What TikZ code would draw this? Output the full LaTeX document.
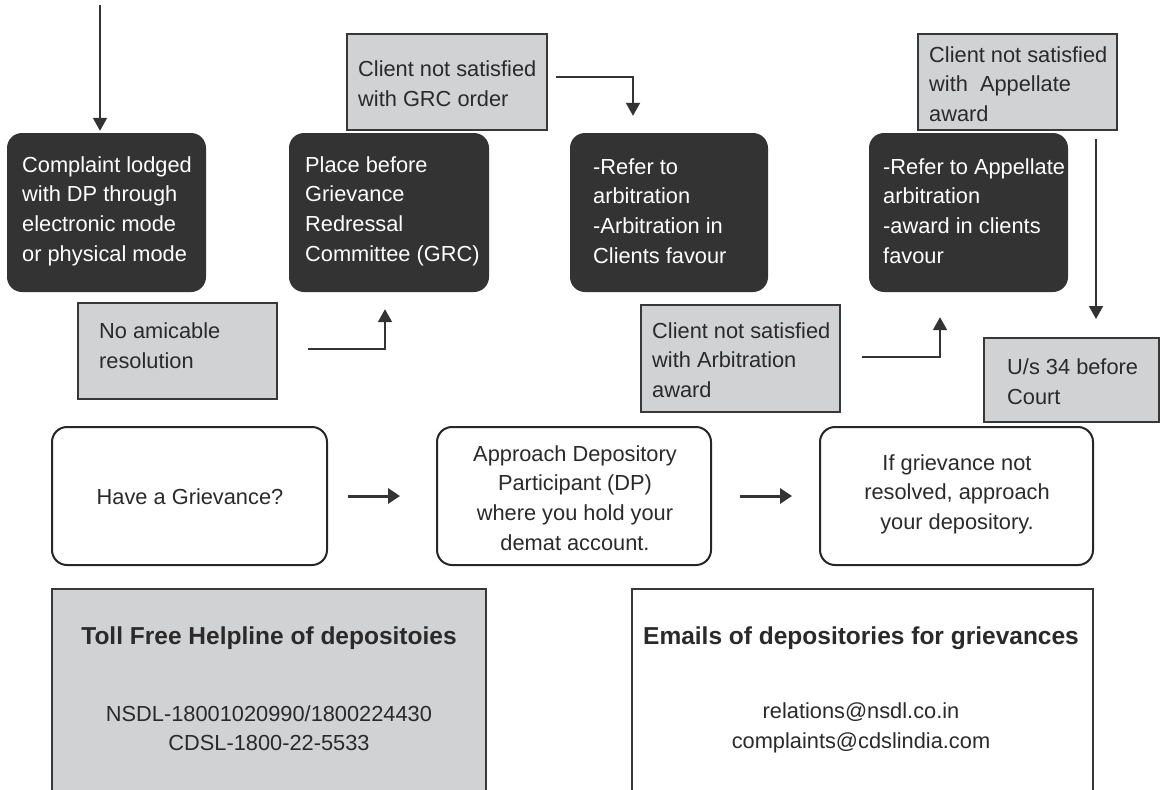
\documentclass[tikz,border=0pt]{standalone}
\usepackage{fontspec}
\setmainfont{Liberation Sans}
\usetikzlibrary{arrows.meta}
\definecolor{darkfill}{HTML}{333333}
\definecolor{grayfill}{HTML}{D1D2D4}
\definecolor{edgec}{HTML}{383838}
\definecolor{linec}{HTML}{333333}
\definecolor{txtc}{HTML}{2A2A2A}
\tikzset{
  darkbox/.style={rectangle, rounded corners=15pt, fill=darkfill, draw=none, inner sep=0pt},
  graybox/.style={rectangle, fill=grayfill, draw=edgec, line width=2pt, inner sep=0pt},
  whitebox/.style={rectangle, rounded corners=15pt, fill=white, draw=black!85, line width=2pt, inner sep=0pt},
  bigbox/.style={rectangle, draw=edgec, line width=2pt, inner sep=0pt},
  txt/.style={inner sep=0pt, align=left, font=\fontsize{21.8}{29.6}\selectfont, text=txtc},
  wtxt/.style={txt, text=white},
  ctxt/.style={txt, align=center},
  ttl/.style={inner sep=0pt, align=center, font=\bfseries\fontsize{24.5}{30}\selectfont, text=txtc},
  arr/.style={draw=linec, line width=2pt, -{Triangle[width=14pt,length=13pt]}},
  arrbig/.style={draw=linec, line width=3pt, -{Triangle[width=15pt,length=12pt]}},
}
\begin{document}
\begin{tikzpicture}[x=1pt,y=-1pt]
\useasboundingbox (0,0) rectangle (1166,789);
\clip (0,0) rectangle (1166,789);

% dark boxes
\node[darkbox, minimum width=199pt, minimum height=159pt] (c1) at (106.5,212.5) {};
\node[darkbox, minimum width=200pt, minimum height=159pt] (c2) at (389,212.5) {};
\node[darkbox, minimum width=198pt, minimum height=159pt] (c3) at (669,212.5) {};
\node[darkbox, minimum width=199pt, minimum height=159pt] (c4) at (968.5,212.5) {};
\node[wtxt, anchor=west] (c1t) at (22,211) {Complaint lodged\\with DP through\\electronic mode\\or physical mode};
\node[wtxt, anchor=west] (c2t) at (305,211) {Place before\\Grievance\\Redressal\\Committee (GRC)};
\node[wtxt, anchor=west] (c3t) at (593,211) {-Refer to\\arbitration\\-Arbitration in\\Clients favour};
\node[wtxt, anchor=west] (c4t) at (883,211) {-Refer to Appellate\\arbitration\\-award in clients\\favour};

% gray boxes
\node[graybox, minimum width=199pt, minimum height=96pt] (noam) at (177.5,351) {};
\node[graybox, minimum width=200pt, minimum height=96pt] (grco) at (447,82) {};
\node[graybox, minimum width=199pt, minimum height=107pt] (arba) at (740.5,358.5) {};
\node[graybox, minimum width=199pt, minimum height=96pt] (appa) at (1017.5,82) {};
\node[graybox, minimum width=175pt, minimum height=84pt] (us) at (1071.5,380) {};
\node[txt, anchor=west] (noamt) at (99,346) {No amicable\\resolution};
\node[txt, anchor=west] (grcot) at (358,83.5) {Client not satisfied\\with GRC order};
\node[txt, anchor=west] (arbat) at (652,360) {Client not satisfied\\with Arbitration\\award};
\node[txt, anchor=west] (appat) at (929,84) {Client not satisfied\\with\ \ Appellate\\award};
\node[txt, anchor=west] (ust) at (1007,382) {U/s 34 before\\Court};

% white rounded boxes
\node[whitebox, minimum width=275pt, minimum height=138pt] (g1) at (189.5,496) {};
\node[whitebox, minimum width=274pt, minimum height=138pt] (g2) at (574,496) {};
\node[whitebox, minimum width=273pt, minimum height=138pt] (g3) at (956.5,496) {};
\node[ctxt] (g1t) at (190,497) {Have a Grievance?};
\node[ctxt] (g2t) at (575,498) {Approach Depository\\Participant (DP)\\where you hold your\\demat account.};
\node[ctxt] (g3t) at (957,494) {If grievance not\\resolved, approach\\your depository.};

% bottom big boxes
\node[bigbox, fill=grayfill, minimum width=434pt, minimum height=240pt] (toll) at (269,709) {};
\node[bigbox, fill=white, minimum width=461pt, minimum height=240pt] (mail) at (862.5,709) {};
\node[ttl] (tollt) at (269,638) {Toll Free Helpline of depositoies};
\node[ctxt] (tollb) at (269,728) {NSDL-18001020990/1800224430\\CDSL-1800-22-5533};
\node[ttl] (mailt) at (861,638) {Emails of depositories for grievances};
\node[ctxt] (mailb) at (861,728) {relations@nsdl.co.in\\complaints@cdslindia.com};

% connectors
\coordinate (top) at (100,5);
\draw[arr, shorten >=2pt] (top) -- (top |- c1.north);
\draw[arr] ([xshift=30pt,yshift=2pt]noam.east) -| ([xshift=-4pt,yshift=-17pt]c2.south);
\draw[arr] ([xshift=8pt,yshift=5pt]grco.east) -| ([xshift=-36pt,yshift=17pt]c3.north);
\draw[arr] ([xshift=21pt,yshift=1.5pt]arba.east) -| ([xshift=-28.5pt,yshift=-25pt]c4.south);
\coordinate (a5) at ([xshift=78.5pt,yshift=-8pt]appa.south);
\draw[arr, shorten >=18pt] (a5) -- (a5 |- us.north);
\draw[arrbig] ([xshift=20pt]g1.east) -- ([xshift=-36pt]g2.west);
\draw[arrbig] ([xshift=28pt]g2.east) -- ([xshift=-27pt]g3.west);
\end{tikzpicture}
\end{document}
